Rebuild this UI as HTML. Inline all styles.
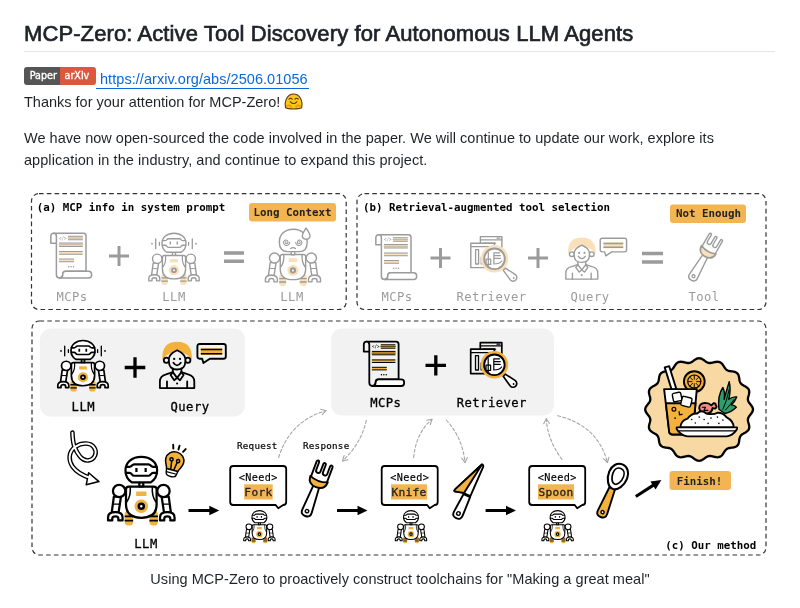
<!DOCTYPE html>
<html lang="en">
<head>
<meta charset="utf-8">
<title>MCP-Zero: Active Tool Discovery for Autonomous LLM Agents</title>
<style>
html,body{margin:0;padding:0;background:#fff;}
body{width:800px;height:608px;position:relative;overflow:hidden;font-family:"Liberation Sans",sans-serif;color:#1f2328;font-size:14.5px;}
h1{position:absolute;left:24px;top:19.7px;margin:0;font-size:22px;line-height:28px;font-weight:normal;-webkit-text-stroke:0.7px #1f2328;letter-spacing:0.1px;white-space:nowrap;color:#1f2328;}
.hr{position:absolute;left:24px;top:51.4px;width:751px;height:1px;background:#e3e5e8;}
.badge{position:absolute;left:24px;top:67px;height:17.6px;width:71.6px;border-radius:3px;overflow:hidden;font-size:9.6px;font-weight:normal;-webkit-text-stroke:0.35px #fff;line-height:17.6px;color:#fff;font-family:"DejaVu Sans","Liberation Sans",sans-serif;}
.badge .l{position:absolute;left:0;top:0;width:36.2px;height:18px;background:#555;text-align:center;padding-left:2.4px;box-sizing:border-box;}
.badge .r{position:absolute;left:36.2px;top:0;width:35.4px;height:18px;background:#db573d;text-align:center;padding-right:2px;box-sizing:border-box;}
a.lnk{position:absolute;left:96px;top:70px;line-height:18px;letter-spacing:0.05px;color:#0969da;text-decoration:none;border-bottom:1px solid #0969da;padding:0 1px 0 4px;white-space:nowrap;}
p{margin:0;}
.t{position:absolute;left:23.5px;line-height:22px;white-space:nowrap;}
#fig{position:absolute;left:0;top:0;will-change:transform;}
h1,.t,.cap,a.lnk,.badge{will-change:transform;}
.cap{position:absolute;left:0;width:800px;top:568.4px;text-align:center;line-height:22px;letter-spacing:0.04px;}
#fig text{font-family:"DejaVu Sans Mono","Liberation Mono",monospace;}
.ln{fill:none;stroke:var(--ln);stroke-width:calc(var(--sw,1.5px) * var(--swm,1));stroke-linecap:round;stroke-linejoin:round;}
.lf{fill:var(--bg);stroke:var(--ln);stroke-width:calc(var(--sw,1.5px) * var(--swm,1));stroke-linecap:round;stroke-linejoin:round;}
.ac{fill:var(--ac);stroke:none;}
.dk{fill:var(--ln);stroke:none;}
.blk{--ln:#000;--ac:#f3b13e;--bg:#fff;}
.blkg{--ln:#000;--ac:#f3b13e;--bg:#f2f2f2;}
.gry{--ln:#9b9b9b;--ac:#f9e0b8;--bg:#fff;--swm:0.82;}
.pan{fill:none;stroke:#333;stroke-width:1.2;stroke-dasharray:4.6 3.2;}
.da{fill:none;stroke:#a6a6a6;stroke-width:1.1;stroke-dasharray:3 2.2;stroke-linecap:round;}
.dh{fill:none;stroke:#a6a6a6;stroke-width:1.1;stroke-linecap:round;stroke-linejoin:round;}
.tb{font-weight:bold;font-size:10.8px;letter-spacing:0;fill:#000;}
.lg{font-size:12.2px;letter-spacing:0.45px;fill:#9b9b9b;}
.lb{font-size:12.2px;letter-spacing:0.45px;fill:#000;stroke:#000;stroke-width:0.3;}
</style>
</head>
<body>
<h1>MCP-Zero: Active Tool Discovery for Autonomous LLM Agents</h1>
<div class="hr"></div>
<div class="badge"><span class="l">Paper</span><span class="r">arXiv</span></div>
<a class="lnk">https://arxiv.org/abs/2506.01056</a>
<p class="t" style="top:91px">Thanks for your attention for MCP-Zero!</p>
<p class="t" style="top:127px;letter-spacing:0.02px">We have now open-sourced the code involved in the paper. We will continue to update our work, explore its</p>
<p class="t" style="top:149px;letter-spacing:0.06px">application in the industry, and continue to expand this project.</p>
<svg id="fig" width="800" height="608" viewBox="0 0 800 608">
<defs><symbol id="robot" viewBox="0 0 52 52" preserveAspectRatio="none" overflow="visible"><g style="--sw:1.7px"><rect class="ac" x="13.4" y="40.5" width="6.4" height="11" rx="2.6"/><path class="ln" style="stroke-width:1.3;stroke-linecap:butt" d="M13.4 44.6h6.4M13.4 47.8h6.4"/><rect class="ac" x="32.2" y="40.5" width="6.4" height="11" rx="2.6"/><path class="ln" style="stroke-width:1.3;stroke-linecap:butt" d="M32.2 44.6h6.4M32.2 47.8h6.4"/><path class="lf" d="M5.2 29.5L3.6 41.5H8.8L10.6 29.5Z"/><path class="lf" d="M46.8 29.5L48.4 41.5H43.2L41.4 29.5Z"/><path class="ln" style="stroke-width:1" d="M4.6 35.2h5.2M47.4 35.2h-5.2"/><path class="lf" d="M0.8 47.6V45.4Q0.8 41.4 6.3 41.4Q11.8 41.4 11.8 45.4V47.6H8.6V46.2Q8.6 44.5 6.3 44.5Q4 44.5 4 46.2V47.6Z"/><path class="lf" d="M51.2 47.6V45.4Q51.2 41.4 45.7 41.4Q40.2 41.4 40.2 45.4V47.6H43.4V46.2Q43.4 44.5 45.7 44.5Q48 44.5 48 46.2V47.6Z"/><path class="lf" d="M16.5 22H35.5Q37.6 22 37.6 24V35.5Q37.6 45.6 26 45.6Q14.4 45.6 14.4 35.5V24Q14.4 22 16.5 22Z"/><path class="ln" style="stroke-width:1.2" d="M17.6 22.3Q18.2 29 15 33.5M34.4 22.3Q33.8 29 37 33.5"/><circle class="lf" cx="9.2" cy="25.3" r="4.7"/><circle class="lf" cx="42.8" cy="25.3" r="4.7"/><rect class="ac" x="22.1" y="25.6" width="7.8" height="3.5" rx="0.5"/><circle class="ac" cx="26" cy="36.9" r="5.1"/><circle class="lf" cx="26" cy="36.9" r="1.9" style="stroke-width:1.9"/><path class="lf" d="M24.5 18.6h3v3.2h-3z"/><path class="lf" d="M26 -0.6C33 -0.6 38 3.6 38 9.6C38 14 36 17 33.2 18.7H18.8C16 17 14 14 14 9.6C14 3.6 19 -0.6 26 -0.6Z"/><path class="ln" d="M14.4 6.9H17Q18 6.9 18.7 6.1L19 5.8Q19.6 5 20.6 5H31.4Q32.4 5 33 5.8L33.3 6.1Q34 6.9 35 6.9H37.6"/><path class="ln" d="M14.3 11.6H17Q18 11.6 18.7 12.5L19 12.9Q19.6 13.7 20.6 13.7H31.4Q32.4 13.7 33 12.9L33.3 12.5Q34 11.6 35 11.6H37.7"/><path class="ln" style="stroke-linecap:butt" d="M22.3 7.9v3M29.3 7.9v3"/></g></symbol><symbol id="robotw" viewBox="0 0 52 52" preserveAspectRatio="none" overflow="visible"><g style="--sw:1.7px"><rect class="ac" x="13.4" y="40.5" width="6.4" height="11" rx="2.6"/><path class="ln" style="stroke-width:1.3;stroke-linecap:butt" d="M13.4 44.6h6.4M13.4 47.8h6.4"/><rect class="ac" x="32.2" y="40.5" width="6.4" height="11" rx="2.6"/><path class="ln" style="stroke-width:1.3;stroke-linecap:butt" d="M32.2 44.6h6.4M32.2 47.8h6.4"/><path class="lf" d="M5.2 29.5L3.6 41.5H8.8L10.6 29.5Z"/><path class="lf" d="M46.8 29.5L48.4 41.5H43.2L41.4 29.5Z"/><path class="ln" style="stroke-width:1" d="M4.6 35.2h5.2M47.4 35.2h-5.2"/><path class="lf" d="M0.8 47.6V45.4Q0.8 41.4 6.3 41.4Q11.8 41.4 11.8 45.4V47.6H8.6V46.2Q8.6 44.5 6.3 44.5Q4 44.5 4 46.2V47.6Z"/><path class="lf" d="M51.2 47.6V45.4Q51.2 41.4 45.7 41.4Q40.2 41.4 40.2 45.4V47.6H43.4V46.2Q43.4 44.5 45.7 44.5Q48 44.5 48 46.2V47.6Z"/><path class="lf" d="M16.5 22H35.5Q37.6 22 37.6 24V35.5Q37.6 45.6 26 45.6Q14.4 45.6 14.4 35.5V24Q14.4 22 16.5 22Z"/><path class="ln" style="stroke-width:1.2" d="M17.6 22.3Q18.2 29 15 33.5M34.4 22.3Q33.8 29 37 33.5"/><circle class="lf" cx="9.2" cy="25.3" r="4.7"/><circle class="lf" cx="42.8" cy="25.3" r="4.7"/><rect class="ac" x="22.1" y="25.6" width="7.8" height="3.5" rx="0.5"/><circle class="ac" cx="26" cy="36.9" r="5.1"/><circle class="lf" cx="26" cy="36.9" r="1.9" style="stroke-width:1.9"/><path class="lf" d="M24.5 18.6h3v3.2h-3z"/><path class="lf" d="M26 -0.6C33 -0.6 38 3.6 38 9.6C38 14 36 17 33.2 18.7H18.8C16 17 14 14 14 9.6C14 3.6 19 -0.6 26 -0.6Z"/><path class="ln" d="M14.4 6.9H17Q18 6.9 18.7 6.1L19 5.8Q19.6 5 20.6 5H31.4Q32.4 5 33 5.8L33.3 6.1Q34 6.9 35 6.9H37.6"/><path class="ln" d="M14.3 11.6H17Q18 11.6 18.7 12.5L19 12.9Q19.6 13.7 20.6 13.7H31.4Q32.4 13.7 33 12.9L33.3 12.5Q34 11.6 35 11.6H37.7"/><path class="ln" style="stroke-linecap:butt" d="M22.3 7.9v3M29.3 7.9v3"/><path class="ln" style="stroke-width:1.3" d="M7.7 5.2V15M11.4 8.7V11.6M44.3 5.2V15M40.6 8.7V11.6"/><circle class="dk" cx="4" cy="10" r="0.9"/><circle class="dk" cx="48" cy="10" r="0.9"/></g></symbol><symbol id="robotc" viewBox="0 -7 52 59" overflow="visible"><g style="--sw:1.7px"><g transform="translate(25.7,51.4) scale(1.085,1.06) translate(-26,-51.4)" style="--sw:1.55px"><rect class="ac" x="13.4" y="40.5" width="6.4" height="11" rx="2.6"/><path class="ln" style="stroke-width:1.3;stroke-linecap:butt" d="M13.4 44.6h6.4M13.4 47.8h6.4"/><rect class="ac" x="32.2" y="40.5" width="6.4" height="11" rx="2.6"/><path class="ln" style="stroke-width:1.3;stroke-linecap:butt" d="M32.2 44.6h6.4M32.2 47.8h6.4"/><path class="lf" d="M5.2 29.5L3.6 41.5H8.8L10.6 29.5Z"/><path class="lf" d="M46.8 29.5L48.4 41.5H43.2L41.4 29.5Z"/><path class="ln" style="stroke-width:1" d="M4.6 35.2h5.2M47.4 35.2h-5.2"/><path class="lf" d="M0.8 47.6V45.4Q0.8 41.4 6.3 41.4Q11.8 41.4 11.8 45.4V47.6H8.6V46.2Q8.6 44.5 6.3 44.5Q4 44.5 4 46.2V47.6Z"/><path class="lf" d="M51.2 47.6V45.4Q51.2 41.4 45.7 41.4Q40.2 41.4 40.2 45.4V47.6H43.4V46.2Q43.4 44.5 45.7 44.5Q48 44.5 48 46.2V47.6Z"/><path class="lf" d="M16.5 22H35.5Q37.6 22 37.6 24V35.5Q37.6 45.6 26 45.6Q14.4 45.6 14.4 35.5V24Q14.4 22 16.5 22Z"/><path class="ln" style="stroke-width:1.2" d="M17.6 22.3Q18.2 29 15 33.5M34.4 22.3Q33.8 29 37 33.5"/><circle class="lf" cx="9.2" cy="25.3" r="4.7"/><circle class="lf" cx="42.8" cy="25.3" r="4.7"/><rect class="ac" x="22.1" y="25.6" width="7.8" height="3.5" rx="0.5"/><circle class="ac" cx="26" cy="36.9" r="5.1"/><circle class="lf" cx="26" cy="36.9" r="1.9" style="stroke-width:1.9"/></g><path class="lf" d="M24 16.5h3.4v4h-3.4z"/><path class="lf" d="M26 -4.8C34.5 -4.8 39.8 0.5 39.8 8C39.8 14.5 36.5 17.4 32 17.4H20C15.5 17.4 12.2 14.5 12.2 8C12.2 0.5 17.5 -4.8 26 -4.8Z"/><path class="ln" style="stroke-width:1" d="M22.50 8.20L22.30 9.13L21.86 9.95L21.22 10.61L20.45 11.05L19.61 11.27L18.76 11.24L17.97 11.00L17.29 10.55L16.78 9.95L16.45 9.25L16.34 8.52L16.42 7.79L16.70 7.14L17.13 6.60L17.68 6.22L18.29 6.00L18.91 5.97L19.50 6.10L20.02 6.38L20.42 6.78L20.69 7.25L20.81 7.76L20.79 8.27L20.63 8.73L20.36 9.11L20.02 9.39L19.62 9.55L19.22 9.60L18.84 9.53L18.51 9.37L18.26 9.14L18.09 8.86L18.02 8.56L18.03 8.28L18.12 8.03L18.27 7.83L18.45 7.69L18.65 7.63L18.84 7.62L19.00 7.67"/><path class="ln" style="stroke-width:1" d="M28.40 8.20L28.60 9.13L29.04 9.95L29.68 10.61L30.45 11.05L31.29 11.27L32.14 11.24L32.93 11.00L33.61 10.55L34.12 9.95L34.45 9.25L34.56 8.52L34.48 7.79L34.20 7.14L33.77 6.60L33.22 6.22L32.61 6.00L31.99 5.97L31.40 6.10L30.88 6.38L30.48 6.78L30.21 7.25L30.09 7.76L30.11 8.27L30.27 8.73L30.54 9.11L30.88 9.39L31.28 9.55L31.68 9.60L32.06 9.53L32.39 9.37L32.64 9.14L32.81 8.86L32.88 8.56L32.87 8.28L32.78 8.03L32.63 7.83L32.45 7.69L32.25 7.63L32.06 7.62L31.90 7.67"/><path class="ln" style="stroke-width:1.2" d="M23.4 14.4Q25.8 12.6 28.2 14.4"/><path class="lf" d="M38.6 -6C41 -2.5 42.6 -0.5 42.6 1.8C42.6 4 40.9 5.2 38.8 5.2C36.6 5.2 35 3.9 35 1.8C35 -0.5 36.6 -2.5 38.6 -6Z"/></g></symbol><symbol id="scroll" viewBox="0 0 42 46" overflow="visible"><g style="--sw:1.8px"><path class="lf" d="M3.6 0.7H33Q35.6 0.7 35.6 3.3V38.4H15.4Q12.6 38.4 12.6 41.8Q12.6 45 9.4 45Q6.3 45 6.3 41.8V10.6"/><path class="lf" d="M6.3 10.6H0.8V3.6Q0.8 0.7 3.6 0.7Q6.3 0.7 6.3 3.6Z"/><path class="lf" style="fill:#fff" d="M9.4 45H38.2Q41.2 45 41.2 41.7Q41.2 38.4 38.2 38.4H15.4Q12.6 38.4 12.6 41.8Q12.6 45 9.4 45Z"/><rect class="ac" x="17.8" y="3.80" width="14.60" height="3.4"/><path class="ln" style="stroke-width:1;stroke-linecap:butt" d="M17.8 3.80H32.4M17.8 7.20H32.4"/><path class="ln" style="stroke-width:0.6" d="M17.8 5.5H32.4"/><rect class="ac" x="8.9" y="10.40" width="23.50" height="3.4"/><path class="ln" style="stroke-width:1;stroke-linecap:butt" d="M8.9 10.40H32.4M8.9 13.80H32.4"/><path class="ln" style="stroke-width:0.6" d="M8.9 12.1H32.4"/><rect class="ac" x="8.9" y="18.90" width="23.50" height="2.6"/><path class="ln" style="stroke-width:1;stroke-linecap:butt" d="M8.9 18.90H32.4M8.9 21.50H32.4"/><rect class="ac" x="8.9" y="26.30" width="14.90" height="2.6"/><path class="ln" style="stroke-width:1;stroke-linecap:butt" d="M8.9 26.30H23.8M8.9 28.90H23.8"/><path class="ln" style="stroke-width:1.4;stroke-dasharray:0.1 2.3" d="M18.4 33.8h6"/><text x="9" y="7.2" style="font-size:5px;font-weight:bold;fill:var(--ln)" textLength="7.4" lengthAdjust="spacingAndGlyphs">&lt;/&gt;</text></g></symbol><symbol id="retr" viewBox="0 0 49 48" overflow="visible"><g style="--sw:1.7px"><rect class="lf" x="11.7" y="1.6" width="21.5" height="20" /><path class="ln" style="stroke-width:1.2" d="M11.7 4.8H33.2M14.5 8.2H27M28.4 3.2h2.8"/><rect class="lf" x="2.1" y="8.2" width="23.7" height="24.4"/><path class="ln" style="stroke-width:1.2" d="M2.1 11.6H25.8"/><rect class="lf" style="stroke-width:1.3" x="6.9" y="14.6" width="3" height="14.4"/><path class="ln" style="stroke-width:1.2" d="M12.5 28.9h10M12.5 22v7"/><path class="ln" style="stroke-width:1.9" d="M33.4 31.6L36.6 34.8"/><path class="lf" style="fill:#fff" d="M34.6 35.3L41.65 44.96A3.7 3.7 0 1 0 46.75 39.64L36.7 33.1Z"/><circle class="dk" cx="45" cy="43" r="0.9"/><circle cx="25.8" cy="23.8" r="10.4" style="fill:#fff;stroke:none"/><circle cx="25.8" cy="23.8" r="12.3" style="fill:none;stroke:var(--ac);stroke-width:3"/><circle class="ln" cx="25.8" cy="23.8" r="10.3" style="stroke-width:1.9"/><path class="ln" style="stroke-width:1.2" d="M25.2 17.8H31M25.2 20.6H31.6M25.2 23.4H31.6M25.2 17.8V29M25.2 29Q31 29 33 26"/><rect class="lf" style="stroke-width:1.2;fill:#fff" x="17.4" y="24.2" width="4.6" height="5.2"/><path class="ln" style="stroke-width:1.2" d="M19.6 17.6V31"/></g></symbol><symbol id="person" viewBox="0 0 37.5 47.5" preserveAspectRatio="none" overflow="visible"><g style="--sw:1.8px"><path class="ac" d="M3.4 18.6Q2.2 0.2 18.1 0.2Q34 0.2 32.8 18.6Q30 14 26.4 12.6L18.1 9L9.8 12.6Q6.2 14 3.4 18.6Z"/><circle class="lf" cx="7.4" cy="18.8" r="2.6"/><circle class="lf" cx="28.8" cy="18.8" r="2.6"/><path class="lf" d="M9.9 17.2Q10.2 12.6 18.1 8.8Q26 12.6 26.3 17.2V20Q26.3 28 18.1 28Q9.9 28 9.9 20Z"/><circle class="dk" cx="15.2" cy="17.4" r="1.15"/><circle class="dk" cx="21" cy="17.4" r="1.15"/><path class="ln" d="M14.4 21.2Q18.1 26.4 21.8 21.2"/><path class="ln" d="M13.8 27V30.6M22.4 27V30.6"/><path class="lf" d="M0.9 46.6V40Q0.9 34.4 7 32.8L13.8 30.6L18.1 36.4L22.4 30.6L29.2 32.8Q35.3 34.4 35.3 40V46.6Z"/><path class="ln" d="M13.8 30.6L11.6 33.6L15.2 38.8L18.1 36.4L21 38.8L24.6 33.6L22.4 30.6"/><path class="ln" d="M8 40V46.6M28.2 40V46.6"/><circle class="dk" cx="18.1" cy="42" r="1.1"/></g></symbol><symbol id="bubble" viewBox="0 0 30.4 21" overflow="visible"><g style="--sw:1.9px"><path class="lf" d="M3.2 1H27.2Q29.4 1 29.4 3.2V13.5Q29.4 15.7 27.2 15.7H13.4L7 20L5.8 15.7H3.2Q1 15.7 1 13.5V3.2Q1 1 3.2 1Z"/><rect class="ac" x="4.4" y="5.3" width="21.4" height="6.6"/><path class="ln" style="stroke-width:1.5;stroke-linecap:butt" d="M4.4 6.6H25.8M4.4 10.7H25.8"/></g></symbol></defs>
<rect class="pan" x="31.5" y="193.6" width="314.7" height="115.9" rx="7.5"/>
<rect class="pan" x="357" y="193.6" width="409" height="115.9" rx="7.5"/>
<rect class="pan" x="32" y="321" width="734" height="234" rx="7.5"/>
<text class="tb" x="36.8" y="210.9">(a) MCP info in system prompt</text>
<rect x="249" y="203" width="87" height="18.5" rx="3" fill="#f3b552"/>
<text class="tb" x="253.4" y="215.9" style="fill:#222">Long Context</text>
<use href="#scroll" x="50" y="232.5" width="42.5" height="46.5" class="gry"/>
<text class="lg" x="72" y="301" text-anchor="middle">MCPs</text>
<path d="M109 256H129M119 246V266" stroke="#9b9b9b" stroke-width="3" fill="none"/>
<use href="#robotw" x="148" y="233.8" width="52" height="51.4" class="gry"/>
<text class="lg" x="174" y="301" text-anchor="middle">LLM</text>
<path d="M224 253H244M224 261.3H244" stroke="#9b9b9b" stroke-width="3.6" fill="none"/>
<use href="#robotc" x="267" y="227" width="52.5" height="59.5" class="gry"/>
<text class="lg" x="292" y="301" text-anchor="middle">LLM</text>
<text class="tb" x="363" y="210.9">(b) Retrieval-augmented tool selection</text>
<rect x="670" y="204.5" width="76" height="18.5" rx="3" fill="#f3b552"/>
<text class="tb" x="676" y="217.3" style="fill:#222">Not Enough</text>
<use href="#scroll" x="375" y="234" width="42.5" height="46.5" class="gry"/>
<text class="lg" x="397" y="301" text-anchor="middle">MCPs</text>
<path d="M430.5 258H450.5M440.5 248V268" stroke="#9b9b9b" stroke-width="3" fill="none"/>
<use href="#retr" x="468.7" y="235" width="49" height="48" class="gry"/>
<text class="lg" x="491.5" y="301" text-anchor="middle">Retriever</text>
<path d="M528 258H548M538 248V268" stroke="#9b9b9b" stroke-width="3" fill="none"/>
<use href="#person" x="565" y="237.3" width="34.8" height="42.6" class="gry"/>
<use href="#bubble" x="599.3" y="237.3" width="28.2" height="19.5" class="gry"/>
<text class="lg" x="590" y="301" text-anchor="middle">Query</text>
<path d="M642 253.5H663M642 262H663" stroke="#9b9b9b" stroke-width="3.6" fill="none"/>
<text class="lg" x="704" y="301" text-anchor="middle">Tool</text>
<rect x="40" y="328.5" width="205" height="88" rx="11" fill="#f2f2f2"/>
<rect x="331" y="328.5" width="223" height="87" rx="11" fill="#f2f2f2"/>
<use href="#robotw" x="57" y="341.1" width="52" height="50.9" class="blk"/>
<text class="lb" x="83.3" y="411" text-anchor="middle">LLM</text>
<path d="M124.7 367.5H145.3M135 357.2V377.8" stroke="#000" stroke-width="3.3" fill="none"/>
<use href="#person" x="159" y="341.5" width="37.5" height="47.5" class="blkg"/>
<use href="#bubble" x="196.4" y="343" width="30.4" height="21" class="blkg"/>
<text class="lb" x="190" y="411" text-anchor="middle">Query</text>
<use href="#scroll" x="363" y="341" width="42" height="46" class="blkg"/>
<text class="lb" x="385.8" y="407" text-anchor="middle">MCPs</text>
<path d="M425.5 365.4H446M435.8 355.2V375.6" stroke="#000" stroke-width="3.3" fill="none"/>
<use href="#retr" x="468.6" y="341" width="49" height="48" class="blkg"/>
<text class="lb" x="491.8" y="407" text-anchor="middle">Retriever</text>
<use href="#robot" x="107" y="457.7" width="68.6" height="68.5" class="blk"/>
<text class="lb" x="146" y="547.5" text-anchor="middle">LLM</text>
<path d="M188.5 510.5H210.3" stroke="#000" stroke-width="3" fill="none"/><path d="M209.3 505.8L219.3 510.5L209.3 515.2Z" fill="#000"/>
<path d="M337 510.5H358.5" stroke="#000" stroke-width="3" fill="none"/><path d="M357.5 505.8L367.5 510.5L357.5 515.2Z" fill="#000"/>
<path d="M485.6 510.5H507" stroke="#000" stroke-width="3" fill="none"/><path d="M506 505.8L516 510.5L506 515.2Z" fill="#000"/>
<g transform="translate(635.8,496.6) rotate(-33)"><path d="M0 0H22" stroke="#000" stroke-width="3" fill="none"/><path d="M20.5 -4.7L30.5 0L20.5 4.7Z" fill="#000"/></g>
<path d="M233.2 466H283.2Q286.2 466 286.2 469V502Q286.2 505 283.2 505L278.2 508.3L275.7 505H233.2Q230.2 505 230.2 502V469Q230.2 466 233.2 466Z" fill="#fff" stroke="#000" stroke-width="1.8" stroke-linejoin="round"/><text x="258.2" y="480.8" text-anchor="middle" style="font-size:10.2px;letter-spacing:0.36px;fill:#000;stroke:#000;stroke-width:0.15">&lt;Need&gt;</text><rect x="244.2" y="484.3" width="28.5" height="15.2" fill="#f3b552"/><text x="258.45" y="496.3" text-anchor="middle" style="font-size:11.2px;letter-spacing:0.3px;fill:#222;stroke:#222;stroke-width:0.3">Fork</text>
<path d="M384.7 466H434.7Q437.7 466 437.7 469V502Q437.7 505 434.7 505L429.7 508.3L427.2 505H384.7Q381.7 505 381.7 502V469Q381.7 466 384.7 466Z" fill="#fff" stroke="#000" stroke-width="1.8" stroke-linejoin="round"/><text x="409.7" y="480.8" text-anchor="middle" style="font-size:10.2px;letter-spacing:0.36px;fill:#000;stroke:#000;stroke-width:0.15">&lt;Need&gt;</text><rect x="391" y="484.3" width="36" height="15.2" fill="#f3b552"/><text x="409.0" y="496.3" text-anchor="middle" style="font-size:11.2px;letter-spacing:0.3px;fill:#222;stroke:#222;stroke-width:0.3">Knife</text>
<path d="M532.2 466H582.2Q585.2 466 585.2 469V502Q585.2 505 582.2 505L577.2 508.3L574.7 505H532.2Q529.2 505 529.2 502V469Q529.2 466 532.2 466Z" fill="#fff" stroke="#000" stroke-width="1.8" stroke-linejoin="round"/><text x="557.2" y="480.8" text-anchor="middle" style="font-size:10.2px;letter-spacing:0.36px;fill:#000;stroke:#000;stroke-width:0.15">&lt;Need&gt;</text><rect x="538" y="484.3" width="36" height="15.2" fill="#f3b552"/><text x="556.0" y="496.3" text-anchor="middle" style="font-size:11.2px;letter-spacing:0.3px;fill:#222;stroke:#222;stroke-width:0.3">Spoon</text>
<use href="#robot" x="243.2" y="511" width="32.4" height="32.6" class="blk"/>
<use href="#robot" x="394.8" y="511" width="32.4" height="32.6" class="blk"/>
<use href="#robot" x="541.4" y="511" width="32.4" height="32.6" class="blk"/>
<text x="237" y="448.6" style="font-size:9.2px;letter-spacing:0.28px;fill:#000;stroke:#000;stroke-width:0.2">Request</text>
<text x="303" y="448.6" style="font-size:9.2px;letter-spacing:0.28px;fill:#000;stroke:#000;stroke-width:0.2">Response</text>
<rect x="669.5" y="471" width="61.5" height="19" rx="3" fill="#f3b552"/>
<text class="tb" x="699.6" y="484.6" text-anchor="middle" style="fill:#222">Finish!</text>
<text class="tb" x="665.3" y="548.7">(c) Our method</text>
<path class="da" d="M278.6 457.5Q290 421 326 410.7"/><path class="dh" d="M322.2 414.7L326 410.7L320.7 409.3"/>
<path class="da" d="M366.3 420.4Q361 444 342.5 460.9"/><path class="dh" d="M344.1 455.6L342.5 460.9L347.9 459.8"/>
<path class="da" d="M413.6 457.5Q416 433 432 419.3"/><path class="dh" d="M430.3 424.5L432 419.3L426.6 420.2"/>
<path class="da" d="M446.3 420Q462.5 437.5 465 462.5"/><path class="dh" d="M461.7 458.1L465 462.5L467.4 457.5"/>
<path class="da" d="M562 459.5Q547.5 440 546.3 418.8"/><path class="dh" d="M549.4 423.3L546.3 418.8L543.7 423.7"/>
<path class="da" d="M557.5 415.8Q597.5 425 607.5 462.5"/><path class="dh" d="M603.5 458.7L607.5 462.5L609.0 457.2"/>
<g class="blk" transform="translate(305.2,516) rotate(20.6) scale(1)"><g style="--sw:1.9px"><path class="lf" d="M-5 -5.2Q-5.3 0 0 0Q5.3 0 5 -5.2L3.1 -31.5H-3.1Z"/><circle class="lf" cx="0" cy="-5.2" r="1.7" style="stroke-width:1.4"/><path class="lf" d="M-8.5 -36V-55.2Q-8.5 -56.6 -7.2 -56.6Q-5.9 -56.6 -5.9 -55.2V-47.099999999999994Q-5.9 -44.8 -3.6 -44.8Q-1.3 -44.8 -1.3 -47.099999999999994V-55.2Q-1.3 -56.6 0 -56.6Q1.3 -56.6 1.3 -55.2V-47.099999999999994Q1.3 -44.8 3.6 -44.8Q5.9 -44.8 5.9 -47.099999999999994V-55.2Q5.9 -56.6 7.2 -56.6Q8.5 -56.6 8.5 -55.2V-36Z"/><path d="M-9.3 -39.4Q-9 -30.8 0 -30.8Q9 -30.8 9.3 -39.4Q0 -35.6 -9.3 -39.4Z" style="fill:var(--ac);stroke:var(--ln);stroke-width:1.9;stroke-linejoin:round"/></g></g>
<g class="blk" transform="translate(456.2,518.2) rotate(25) scale(1)"><g style="--sw:1.9px"><path class="lf" d="M-4.8 -5Q-5 0 0 0Q5 0 4.8 -5L3.7 -25H-3.5Z"/><circle class="lf" cx="0" cy="-5.2" r="1.8" style="stroke-width:1.4"/><path class="lf" d="M0.6 -59.6Q2.6 -59.8 2.8 -57.6L3.5 -26H-4.4L-12.8 -23.6Q-13.8 -24.4 -13.2 -25.6Z"/><path d="M0.6 -59.6L-13.2 -25.6Q-13.8 -24.4 -12.8 -23.6L-3.6 -26.2Z" style="fill:var(--ac);stroke:var(--ln);stroke-width:1.9;stroke-linejoin:round"/></g></g>
<g class="blk" transform="translate(600.6,517) rotate(22) scale(1)"><g style="--sw:1.9px"><path d="M-5 -5.2Q-5.3 0 0 0Q5.3 0 5 -5.2L2.9 -32H-2.9Z" style="fill:var(--ac);stroke:var(--ln);stroke-width:1.9;stroke-linejoin:round"/><circle class="lf" cx="0" cy="-5.2" r="1.6" style="stroke-width:1.4"/><path class="lf" style="stroke-width:2.1" d="M0.6 -57C6.4 -57 10.2 -51.5 10.2 -45.5C10.2 -38 6 -30.6 0.6 -30.6C-4.8 -30.6 -9 -38 -9 -45.5C-9 -51.5 -5.2 -57 0.6 -57Z"/><path class="lf" style="stroke-width:1.7" d="M0.6 -52.6C4.2 -52.6 6.2 -49.4 6.2 -45.6C6.2 -40.8 3.8 -35.8 0.6 -35.8C-2.6 -35.8 -5 -40.8 -5 -45.6C-5 -49.4 -3 -52.6 0.6 -52.6Z"/></g></g>
<g class="gry" transform="translate(691.2,280.2) rotate(30) scale(0.89)"><g style="--sw:1.9px"><path class="lf" d="M-5 -5.2Q-5.3 0 0 0Q5.3 0 5 -5.2L3.1 -31.5H-3.1Z"/><circle class="lf" cx="0" cy="-5.2" r="1.7" style="stroke-width:1.4"/><path class="lf" d="M-8.5 -36V-55.2Q-8.5 -56.6 -7.2 -56.6Q-5.9 -56.6 -5.9 -55.2V-47.099999999999994Q-5.9 -44.8 -3.6 -44.8Q-1.3 -44.8 -1.3 -47.099999999999994V-55.2Q-1.3 -56.6 0 -56.6Q1.3 -56.6 1.3 -55.2V-47.099999999999994Q1.3 -44.8 3.6 -44.8Q5.9 -44.8 5.9 -47.099999999999994V-55.2Q5.9 -56.6 7.2 -56.6Q8.5 -56.6 8.5 -55.2V-36Z"/><path d="M-9.3 -39.4Q-9 -30.8 0 -30.8Q9 -30.8 9.3 -39.4Q0 -35.6 -9.3 -39.4Z" style="fill:var(--ac);stroke:var(--ln);stroke-width:1.9;stroke-linejoin:round"/></g></g>
<path d="M72.4 432.6C72.6 438 72.8 442 74.4 446.4C77 453.6 82 461.2 88.4 460.4C95 459.6 97.6 452.4 94 447.4C90.6 442.6 82 442.2 75.6 446.6C68 451.8 68.4 460.6 72.6 466.6C76.8 472.6 84 476 91 478.2" fill="none" stroke="#000" stroke-width="4.6" stroke-linecap="round" stroke-linejoin="round"/>
<path d="M88.6 472.8L99 481.6L86.2 484.8Z" fill="#fff" stroke="#000" stroke-width="1.5" stroke-linejoin="round"/>
<path d="M72.4 432.6C72.6 438 72.8 442 74.4 446.4C77 453.6 82 461.2 88.4 460.4C95 459.6 97.6 452.4 94 447.4C90.6 442.6 82 442.2 75.6 446.6C68 451.8 68.4 460.6 72.6 466.6C76.8 472.6 84 476 91 478.2" fill="none" stroke="#fff" stroke-width="1.9" stroke-linecap="round" stroke-linejoin="round"/>
<path d="M89.4 476.2L92 479.6" stroke="#fff" stroke-width="2.2" fill="none"/>
<g transform="translate(174.6,461) rotate(15)"><path d="M0 -9.2C5.4 -9.2 9.2 -5.2 9.2 -0.4C9.2 3.6 6.6 5.8 5.8 9.4H-5.8C-6.6 5.8 -9.2 3.6 -9.2 -0.4C-9.2 -5.2 -5.4 -9.2 0 -9.2Z" fill="#f3b13e" stroke="#000" stroke-width="1.5" stroke-linejoin="round"/><path d="M-5.8 9.4H5.8L5.2 13.2Q4.8 16 0 16Q-4.8 16 -5.2 13.2Z" fill="#fff" stroke="#000" stroke-width="1.4" stroke-linejoin="round"/><path d="M-5.2 12.4H5.2" stroke="#000" stroke-width="1.1" fill="none"/><circle cx="-3.4" cy="-0.8" r="1.6" fill="none" stroke="#000" stroke-width="1.5"/><circle cx="3.4" cy="-0.8" r="1.6" fill="none" stroke="#000" stroke-width="1.5"/><path d="M-2.8 0.8L-1.6 9.2M2.8 0.8L1.6 9.2" stroke="#000" stroke-width="1.5" fill="none"/><path d="M-4.4 -11.6L-5.6 -15.4M0.8 -12V-16M5.8 -11L7.6 -14.4" stroke="#000" stroke-width="1.9" stroke-linecap="round" fill="none"/></g>
<path d="M699.1 358.2L700.0 358.3L701.0 358.5L701.9 358.9L702.8 359.4L703.7 360.0L704.5 360.6L705.3 361.2L706.1 361.7L707.0 362.2L707.8 362.6L708.6 362.9L709.5 363.0L710.4 363.0L711.3 362.9L712.3 362.7L713.3 362.5L714.3 362.2L715.3 362.0L716.4 361.8L717.4 361.7L718.3 361.8L719.3 362.0L720.1 362.3L720.9 362.8L721.7 363.4L722.3 364.1L722.9 365.0L723.5 365.8L724.0 366.7L724.5 367.5L725.1 368.3L725.7 369.0L726.3 369.6L727.0 370.1L727.8 370.5L728.6 370.8L729.6 371.0L730.6 371.1L731.6 371.3L732.7 371.4L733.7 371.6L734.7 371.8L735.6 372.2L736.5 372.7L737.2 373.2L737.8 373.9L738.3 374.7L738.6 375.6L738.9 376.5L739.1 377.5L739.2 378.5L739.4 379.5L739.5 380.5L739.8 381.4L740.1 382.2L740.5 382.9L741.0 383.6L741.6 384.2L742.3 384.8L743.2 385.3L744.0 385.8L745.0 386.3L745.9 386.8L746.7 387.4L747.5 388.0L748.2 388.7L748.7 389.5L749.0 390.3L749.2 391.2L749.3 392.1L749.2 393.1L749.0 394.1L748.8 395.0L748.5 396.0L748.2 397.0L748.0 397.9L747.9 398.8L747.9 399.6L748.1 400.4L748.3 401.2L748.7 402.0L749.2 402.8L749.8 403.6L750.5 404.4L751.1 405.2L751.7 406.0L752.2 406.8L752.6 407.7L752.9 408.6L753.0 409.5L752.9 410.4L752.6 411.3L752.2 412.2L751.7 413.0L751.1 413.8L750.5 414.6L749.8 415.4L749.2 416.2L748.7 417.0L748.3 417.8L748.1 418.6L747.9 419.4L747.9 420.2L748.0 421.1L748.2 422.0L748.5 423.0L748.8 424.0L749.0 424.9L749.2 425.9L749.3 426.9L749.2 427.8L749.0 428.7L748.7 429.5L748.2 430.3L747.5 431.0L746.7 431.6L745.9 432.2L745.0 432.7L744.0 433.2L743.2 433.7L742.3 434.2L741.6 434.8L741.0 435.4L740.5 436.1L740.1 436.8L739.8 437.6L739.5 438.5L739.4 439.5L739.2 440.5L739.1 441.5L738.9 442.5L738.6 443.4L738.3 444.3L737.8 445.1L737.2 445.8L736.5 446.3L735.6 446.8L734.7 447.2L733.7 447.4L732.7 447.6L731.6 447.7L730.6 447.9L729.6 448.0L728.6 448.2L727.8 448.5L727.0 448.9L726.3 449.4L725.7 450.0L725.1 450.7L724.5 451.5L724.0 452.3L723.5 453.2L722.9 454.0L722.3 454.9L721.7 455.6L720.9 456.2L720.1 456.7L719.3 457.0L718.3 457.2L717.4 457.3L716.4 457.2L715.3 457.0L714.3 456.8L713.3 456.5L712.3 456.3L711.3 456.1L710.4 456.0L709.5 456.0L708.6 456.1L707.8 456.4L707.0 456.8L706.1 457.3L705.3 457.8L704.5 458.4L703.7 459.0L702.8 459.6L701.9 460.1L701.0 460.5L700.0 460.7L699.1 460.8L698.2 460.7L697.2 460.5L696.3 460.1L695.4 459.6L694.5 459.0L693.7 458.4L692.9 457.8L692.1 457.3L691.2 456.8L690.4 456.4L689.6 456.1L688.7 456.0L687.8 456.0L686.9 456.1L685.9 456.3L684.9 456.5L683.9 456.8L682.9 457.0L681.8 457.2L680.8 457.3L679.9 457.2L678.9 457.0L678.1 456.7L677.3 456.2L676.5 455.6L675.9 454.9L675.3 454.0L674.7 453.2L674.2 452.3L673.7 451.5L673.1 450.7L672.5 450.0L671.9 449.4L671.2 448.9L670.4 448.5L669.6 448.2L668.6 448.0L667.6 447.9L666.6 447.7L665.5 447.6L664.5 447.4L663.5 447.2L662.6 446.8L661.7 446.3L661.0 445.8L660.4 445.1L659.9 444.3L659.6 443.4L659.3 442.5L659.1 441.5L659.0 440.5L658.8 439.5L658.7 438.5L658.4 437.6L658.1 436.8L657.7 436.1L657.2 435.4L656.6 434.8L655.9 434.2L655.0 433.7L654.2 433.2L653.2 432.7L652.3 432.2L651.5 431.6L650.7 431.0L650.0 430.3L649.5 429.5L649.2 428.7L649.0 427.8L648.9 426.9L649.0 425.9L649.2 424.9L649.4 424.0L649.7 423.0L650.0 422.0L650.2 421.1L650.3 420.2L650.3 419.4L650.1 418.6L649.9 417.8L649.5 417.0L649.0 416.2L648.4 415.4L647.7 414.6L647.1 413.8L646.5 413.0L646.0 412.2L645.6 411.3L645.3 410.4L645.2 409.5L645.3 408.6L645.6 407.7L646.0 406.8L646.5 406.0L647.1 405.2L647.7 404.4L648.4 403.6L649.0 402.8L649.5 402.0L649.9 401.2L650.1 400.4L650.3 399.6L650.3 398.8L650.2 397.9L650.0 397.0L649.7 396.0L649.4 395.0L649.2 394.1L649.0 393.1L648.9 392.1L649.0 391.2L649.2 390.3L649.5 389.5L650.0 388.7L650.7 388.0L651.5 387.4L652.3 386.8L653.2 386.3L654.2 385.8L655.0 385.3L655.9 384.8L656.6 384.2L657.2 383.6L657.7 382.9L658.1 382.2L658.4 381.4L658.7 380.5L658.8 379.5L659.0 378.5L659.1 377.5L659.3 376.5L659.6 375.6L659.9 374.7L660.4 373.9L661.0 373.2L661.7 372.7L662.6 372.2L663.5 371.8L664.5 371.6L665.5 371.4L666.6 371.3L667.6 371.1L668.6 371.0L669.6 370.8L670.4 370.5L671.2 370.1L671.9 369.6L672.5 369.0L673.1 368.3L673.7 367.5L674.2 366.7L674.7 365.8L675.3 365.0L675.9 364.1L676.5 363.4L677.3 362.8L678.1 362.3L678.9 362.0L679.9 361.8L680.8 361.7L681.8 361.8L682.9 362.0L683.9 362.2L684.9 362.5L685.9 362.7L686.9 362.9L687.8 363.0L688.7 363.0L689.6 362.9L690.4 362.6L691.2 362.2L692.1 361.7L692.9 361.2L693.7 360.6L694.5 360.0L695.4 359.4L696.3 358.9L697.2 358.5L698.2 358.3Z" fill="#f8d9a3" stroke="#000" stroke-width="2.3" stroke-linejoin="round"/>
<path d="M664.7 367.4L669.2 366.2L676.5 389.5L671.6 389.5Z" fill="#fff" stroke="#000" stroke-width="1.9" stroke-linejoin="round" stroke-linecap="round"/>
<circle cx="694.3" cy="381.6" r="10.4" fill="#f3b13e" stroke="#000" stroke-width="1.9" stroke-linejoin="round" stroke-linecap="round"/>
<circle cx="694.3" cy="381.6" r="6.6" fill="#f3b13e" stroke="#000" stroke-width="1.2"/>
<path d="M687.7 381.6h13.2M694.3 375.0v13.2M689.7 377.0l9.2 9.2M698.9 377.0l-9.2 9.2" stroke="#000" stroke-width="0.9" fill="none"/>
<circle cx="694.3" cy="381.6" r="2" fill="#f3b13e"/>
<path d="M664.1 389.1L696.8 389.1L692.9 431.9Q692.5 434.5 689.3 434.5L672.6 434.5Q669.6 434.5 669.2 431.9Z" fill="#fff" stroke="#000" stroke-width="1.9" stroke-linejoin="round" stroke-linecap="round"/>
<path d="M665.9 403.3L695.5 403.3L692.9 431.9Q692.5 434.5 689.3 434.5L672.6 434.5Q669.6 434.5 669.2 431.9Z" fill="#f3b13e" stroke="#000" stroke-width="1.9" stroke-linejoin="round" stroke-linecap="round"/>
<rect x="-4.3" y="-4.3" width="8.6" height="8.6" rx="1.6" transform="translate(677.1,397.0) rotate(-12)" fill="#fff" stroke="#000" stroke-width="1.4"/>
<rect x="-5.0" y="-4.7" width="10" height="9.4" rx="1.6" transform="translate(686.4,401.7) rotate(14)" fill="#fff" stroke="#000" stroke-width="1.4"/>
<circle cx="673.9" cy="409.2" r="1.9" fill="none" stroke="#000" stroke-width="1.2"/>
<path d="M679.1 411.6L679.5 414.7L682.2 414.3" fill="none" stroke="#000" stroke-width="1.2" stroke-linecap="round"/>
<circle cx="675.1" cy="418.1" r="0.9" fill="#000"/>
<path d="M718.9 409.2Q717.4 395.4 722.9 387.5Q725.3 392.4 724.1 399.3Q726.8 389.5 729.2 381.6Q731.2 389.5 728.8 399.3Q732.8 396.4 736.7 397.0Q735.1 401.7 731.2 404.9Q734.7 404.9 736.3 407.2Q731.2 412.2 724.9 413.5Z" fill="#2f9e6e" stroke="#000" stroke-width="1.4" stroke-linejoin="round"/>
<path d="M722.9 409.2Q726.8 401.3 729.2 389.5M725.3 410.2Q730.8 404.3 734.3 399.3" fill="none" stroke="#000" stroke-width="1" stroke-linecap="round"/>
<path d="M699.2 408.2Q699.2 403.3 705.1 402.9Q709.1 402.9 711.4 405.3L713.4 403.3Q715.8 402.9 715.8 405.3Q717.4 406.4 715.8 408.0Q714.6 409.2 712.6 408.0Q711.8 413.2 706.3 413.9Q700.0 413.5 699.2 408.2Z" fill="#f08a84" stroke="#000" stroke-width="1.9" stroke-linejoin="round" stroke-linecap="round"/>
<path d="M702.4 407.2L705.5 407.2L703.9 410.4L707.9 410.4" fill="none" stroke="#000" stroke-width="1.1" stroke-linecap="round" stroke-linejoin="round"/>
<path d="M680.5 427.4Q680.5 421.0 687.4 418.7Q691.7 412.8 697.2 413.5Q701.2 409.2 706.3 413.5Q713.0 415.1 717.4 412.8Q722.9 412.4 726.4 417.1Q733.7 421.0 733.7 427.4Z" fill="#fff" stroke="#000" stroke-width="1.9" stroke-linejoin="round" stroke-linecap="round"/>
<circle cx="691.7" cy="419.5" r="0.8" fill="#000"/>
<circle cx="699.2" cy="417.1" r="0.8" fill="#000"/>
<circle cx="704.1" cy="419.5" r="0.8" fill="#000"/>
<circle cx="711.0" cy="418.1" r="0.8" fill="#000"/>
<circle cx="717.4" cy="417.1" r="0.8" fill="#000"/>
<circle cx="722.9" cy="420.1" r="0.8" fill="#000"/>
<circle cx="695.3" cy="423.0" r="0.8" fill="#000"/>
<circle cx="708.1" cy="423.4" r="0.8" fill="#000"/>
<circle cx="718.9" cy="423.4" r="0.8" fill="#000"/>
<path d="M676.7 427.4L737.1 427.4Q737.5 428.9 736.3 430.1Q732.8 435.3 726.8 436.4L687.4 436.4Q681.0 435.3 677.5 430.1Q676.3 428.9 676.7 427.4Z" fill="#fff" stroke="#000" stroke-width="1.9" stroke-linejoin="round" stroke-linecap="round"/>
<path d="M678.7 430.9L735.1 430.9" fill="none" stroke="#000" stroke-width="1.2"/>
<g role="img" aria-label="🤗 hugging face" transform="translate(293.6,101.6)"><path d="M-8 6.2C-9.6 -1 -6 -7.6 0 -7.6C6 -7.6 9.6 -1 8 6.2C5 7.8 -5 7.8 -8 6.2Z" fill="#f9c51e" stroke="#5a3d00" stroke-width="1.1" stroke-linejoin="round"/><path d="M-4.6 -2.4Q-3 -4.2 -1.4 -2.4M1.4 -2.4Q3 -4.2 4.6 -2.4" fill="none" stroke="#5a3d00" stroke-width="1.1" stroke-linecap="round"/><path d="M-3.2 0.2Q0 3.6 3.2 0.2" fill="none" stroke="#5a3d00" stroke-width="1.2" stroke-linecap="round"/><path d="M-6.6 4.4Q-4 2.6 -2.4 5.4M6.6 4.4Q4 2.6 2.4 5.4" fill="none" stroke="#e89a0c" stroke-width="1.6" stroke-linecap="round"/></g>
</svg>
<p class="cap">Using MCP-Zero to proactively construct toolchains for "Making a great meal"</p>
</body>
</html>
